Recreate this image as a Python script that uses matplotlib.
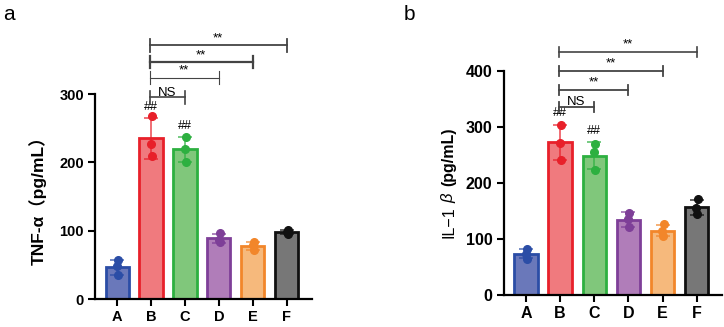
import numpy as np
import matplotlib
matplotlib.use("Agg")
import matplotlib.pyplot as plt

plt.rcParams['font.family'] = ['Liberation Sans', 'Noto Sans CJK SC', 'DejaVu Sans']

groups = ["A", "B", "C", "D", "E", "F"]

tnf_points = [
    [57, 48, 35],
    [268, 227, 210],
    [237, 219, 201],
    [97, 86, 84],
    [84, 79, 72],
    [102, 98, 95],
]
il1b_points = [
    [82, 74, 65],
    [304, 272, 241],
    [269, 255, 223],
    [147, 135, 121],
    [126, 114, 105],
    [171, 155, 144],
]

tnf_yticks = [0, 100, 200, 300]
il1b_yticks = [0, 100, 200, 300, 400]

# comparisons: (from, to, label, height)
tnf_comp = [("B", "C", "NS", 295), ("B", "D", "**", 324), ("B", "E", "**", 347), ("B", "F", "**", 371)]
il1b_comp = [("B", "C", "NS", 336), ("B", "D", "**", 366), ("B", "E", "**", 400), ("B", "F", "**", 434)]
hash_groups = ["B", "C"]

edge_colors = ["#2B4DA6", "#E8202A", "#2DB040", "#7E3F98", "#F2862A", "#111111"]
fill_colors = ["#6A78BA", "#F07A7E", "#80C77B", "#B07DB9", "#F6B97C", "#777777"]

jit = [0.03, -0.01, 0.02]

W, H = 7.24, 3.27
fig = plt.figure(figsize=(W, H), dpi=100)
ax1 = fig.add_axes([0.1312, 0.0847, 0.2997, 0.6278])
ax2 = fig.add_axes([0.6957, 0.0979, 0.3015, 0.685])


def draw(ax, pts, yticks, comps, ylim, bracket_lw, star_off, cap, tick_fs):
    x = np.arange(len(groups))
    means = [np.mean(p) for p in pts]
    sds = [np.std(p, ddof=1) for p in pts]
    for i in range(len(groups)):
        ax.bar(x[i], means[i], width=0.68, color=fill_colors[i], edgecolor=edge_colors[i],
               linewidth=2.0, zorder=2)
        ax.errorbar(x[i], means[i], yerr=sds[i], color=edge_colors[i], alpha=0.7,
                    capsize=5, capthick=1.3, elinewidth=1.3, zorder=3)
        for j, v in enumerate(pts[i]):
            ax.plot(x[i] + jit[j], v, 'o', color=edge_colors[i],
                    markersize=5.5, zorder=4)
    ax.set_xlim(-0.65, 5.74)
    ax.set_ylim(*ylim)
    ax.set_yticks(yticks)
    ax.set_xticks(x)
    ax.set_xticklabels(groups)
    for s in ["top", "right"]:
        ax.spines[s].set_visible(False)
    for s in ["left", "bottom"]:
        ax.spines[s].set_linewidth(1.6)
    ax.tick_params(axis='both', width=1.5, length=5, labelsize=tick_fs, pad=3)
    for lab in ax.get_xticklabels() + ax.get_yticklabels():
        lab.set_fontweight('bold')
    for k, (a, b, t, h) in enumerate(comps):
        xa = groups.index(a) - 0.04
        xb = groups.index(b)
        ax.plot([xa, xb], [h, h], color="#444444", lw=bracket_lw[k], clip_on=False, zorder=5)
        for xx in (xa, xb):
            ax.plot([xx, xx], [h - cap, h + cap], color="#444444", lw=bracket_lw[k],
                    clip_on=False, zorder=5)
        if t == "NS":
            ax.text((xa + xb) / 2, h - cap * 0.3, t, ha='center', va='bottom', fontsize=9.5,
                    clip_on=False)
        else:
            ax.text((xa + xb) / 2, h + star_off, t, ha='center', va='bottom', fontsize=9.5,
                    clip_on=False)
    for g in hash_groups:
        i = groups.index(g)
        ax.text(i, means[i] + sds[i] + ylim[1] * 0.025, "##", ha='center', va='bottom',
                fontsize=9)


draw(ax1, tnf_points, tnf_yticks, tnf_comp, (0, 300),
     [1.2, 0.8, 1.6, 1.3], 1, 9, 10.5)
draw(ax2, il1b_points, il1b_yticks, il1b_comp, (0, 400),
     [1.3, 1.3, 1.3, 1.2], 3, 9, 11.5)

ax1.set_ylabel("TNF-α（pg/mL）", fontsize=12.5, fontweight='bold', labelpad=9)


def rotated_label(x_frac, center_frac, parts):
    renderer = fig.canvas.get_renderer()
    texts = []
    for s, kw, g in parts:
        texts.append((fig.text(x_frac, 0, s, rotation=90, rotation_mode='anchor',
                               ha='left', va='baseline', family='Liberation Sans', **kw), g))
    heights = [t.get_window_extent(renderer).height for t, _ in texts]
    total = sum(heights) + sum(g for _, g in texts)
    y0 = center_frac * H * fig.dpi - total / 2
    for (t, g), h in zip(texts, heights):
        t.set_position((x_frac, y0 / (H * fig.dpi)))
        y0 += h + g


ax2_pos = ax2.get_position()
rotated_label(453 / 724, (ax2_pos.y0 + ax2_pos.y1) / 2,
              [("IL−1", dict(fontsize=11.5), 4),
               ("β", dict(fontsize=12, style='italic'), 7),
               ("(pg/mL)", dict(fontsize=11.5, fontweight='bold'), 0)])

fig.text(0.005, 0.985, "a", fontsize=15, va='top', ha='left')
fig.text(0.558, 0.985, "b", fontsize=15, va='top', ha='left')

fig.savefig("out.png", dpi=100)
